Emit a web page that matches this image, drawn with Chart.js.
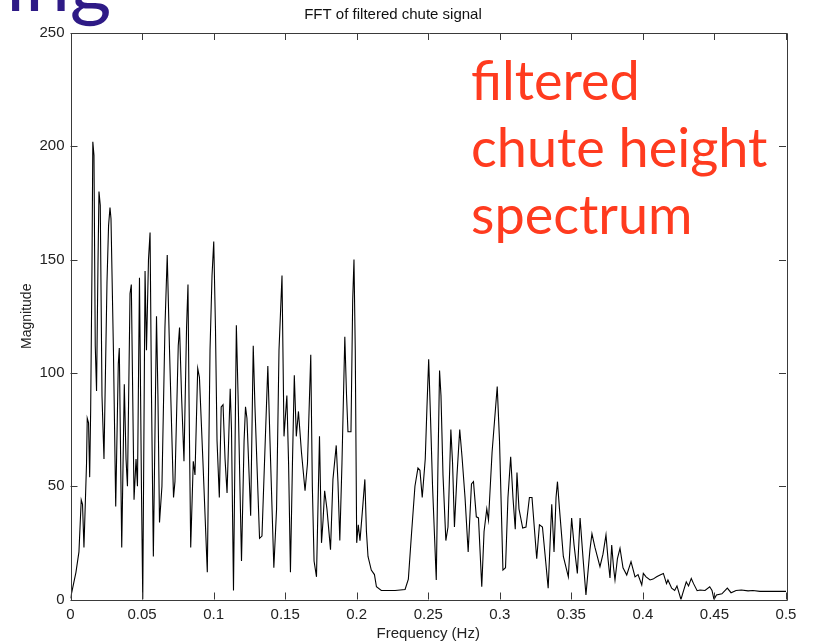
<!DOCTYPE html>
<html>
<head>
<meta charset="utf-8">
<title>FFT of filtered chute signal</title>
<script src="https://cdn.jsdelivr.net/npm/chart.js@4.4.1/dist/chart.umd.min.js"></script>
<style>
  html, body { margin: 0; padding: 0; background: #fff; overflow: hidden; }
  #wrap { position: relative; width: 816px; height: 644px; }
  #chart { position: absolute; left: 0; top: 0; }
  .slide-title {
    position: absolute; left: 6px; top: -60px;
    font: 80px/80px Lato, sans-serif; color: #2e1a86; white-space: nowrap;
  }
  .note {
    position: absolute; left: 471px; top: 46px;
    font: 54px/67px Lato, sans-serif; color: #ff3b1f; white-space: nowrap;
  }
</style>
</head>
<body>
<div id="wrap">
  <canvas id="chart" width="816" height="644"></canvas>
  <div class="slide-title">ing</div>
  <div class="note">filtered<br>chute height<br>spectrum</div>
</div>
<script>
// Spectrum samples (peaks and troughs), frequency in Hz
const freqHz = [
  0.0000, 0.0038, 0.0059, 0.0075, 0.0084, 0.0094, 0.0112, 0.0117, 0.0126, 0.0134,
  0.0141, 0.0150, 0.0156, 0.0164, 0.0173, 0.0182, 0.0192, 0.0199, 0.0208, 0.0220,
  0.0234, 0.0255, 0.0266, 0.0276, 0.0283, 0.0300, 0.0316, 0.0334, 0.0341, 0.0358,
  0.0376, 0.0388, 0.0398, 0.0416, 0.0425, 0.0444, 0.0458, 0.0468, 0.0482, 0.0496,
  0.0505, 0.0521, 0.0531, 0.0545, 0.0556, 0.0566, 0.0579, 0.0601, 0.0611, 0.0622,
  0.0639, 0.0660, 0.0676, 0.0692, 0.0720, 0.0730, 0.0753, 0.0762, 0.0776, 0.0793,
  0.0811, 0.0821, 0.0828, 0.0840, 0.0858, 0.0870, 0.0889, 0.0901, 0.0926, 0.0956,
  0.0975, 0.0989, 0.1001, 0.1013, 0.1024, 0.1040, 0.1053, 0.1066, 0.1080, 0.1094,
  0.1116, 0.1125, 0.1139, 0.1159, 0.1171, 0.1195, 0.1213, 0.1223, 0.1233, 0.1259,
  0.1277, 0.1289, 0.1321, 0.1338, 0.1379, 0.1394, 0.1421, 0.1440, 0.1457, 0.1478,
  0.1492, 0.1512, 0.1524, 0.1537, 0.1551, 0.1564, 0.1578, 0.1593, 0.1614, 0.1639,
  0.1656, 0.1679, 0.1690, 0.1702, 0.1719, 0.1740, 0.1754, 0.1765, 0.1776, 0.1792,
  0.1817, 0.1834, 0.1857, 0.1869, 0.1882, 0.1897, 0.1917, 0.1929, 0.1939, 0.1960,
  0.1972, 0.1981, 0.1990, 0.2000, 0.2011, 0.2023, 0.2041, 0.2057, 0.2068, 0.2079,
  0.2102, 0.2124, 0.2138, 0.2172, 0.2268, 0.2338, 0.2361, 0.2383, 0.2407, 0.2428,
  0.2442, 0.2458, 0.2479, 0.2491, 0.2503, 0.2516, 0.2530, 0.2556, 0.2568, 0.2579,
  0.2589, 0.2603, 0.2623, 0.2638, 0.2658, 0.2670, 0.2683, 0.2701, 0.2720, 0.2736,
  0.2757, 0.2779, 0.2802, 0.2816, 0.2836, 0.2851, 0.2874, 0.2890, 0.2909, 0.2921,
  0.2946, 0.2982, 0.2998, 0.3022, 0.3040, 0.3057, 0.3076, 0.3092, 0.3108, 0.3120,
  0.3134, 0.3160, 0.3183, 0.3207, 0.3225, 0.3258, 0.3277, 0.3298, 0.3316, 0.3338,
  0.3363, 0.3379, 0.3393, 0.3403, 0.3417, 0.3444, 0.3479, 0.3502, 0.3519, 0.3542,
  0.3561, 0.3582, 0.3602, 0.3630, 0.3644, 0.3665, 0.3700, 0.3721, 0.3742, 0.3756,
  0.3770, 0.3782, 0.3795, 0.3805, 0.3822, 0.3840, 0.3861, 0.3887, 0.3917, 0.3945,
  0.3966, 0.3992, 0.4003, 0.4022, 0.4050, 0.4071, 0.4096, 0.4120, 0.4143, 0.4165,
  0.4175, 0.4201, 0.4222, 0.4238, 0.4266, 0.4280, 0.4303, 0.4319, 0.4338, 0.4354,
  0.4379, 0.4399, 0.4434, 0.4467, 0.4483, 0.4497, 0.4514, 0.4552, 0.4590, 0.4616,
  0.4651, 0.4688, 0.4735, 0.4769, 0.4818, 0.5000
];

const magnitude = [
  0.5, 12, 21, 44, 42, 23, 60, 80, 78, 54,
  84, 146, 202, 196, 112, 92, 148, 180, 174, 90,
  62, 140, 165, 173, 168, 110, 41, 104, 111, 23,
  95, 62, 50, 135, 139, 44, 62, 50, 142, 48,
  0, 145, 110, 150, 162, 90, 19, 125, 90, 34,
  50, 120, 152, 110, 45, 52, 112, 120, 90, 61,
  120, 139, 90, 23, 61, 55, 102, 98, 60, 12,
  110, 143, 158, 120, 70, 45, 85, 86, 62, 47,
  93, 75, 4, 121, 90, 17, 70, 85, 80, 37,
  112, 85, 27, 28, 103, 70, 14, 40, 110, 143,
  72, 90, 60, 12, 60, 99, 72, 83, 65, 48,
  60, 108, 50, 17, 10, 72, 25, 35, 48, 40,
  22, 53, 68, 52, 26, 60, 116, 90, 74, 74,
  132, 150, 110, 25, 33, 26, 40, 53, 30, 19,
  13, 11, 5.6, 4, 4, 4.4, 9, 29, 50, 58,
  57, 45, 62, 85, 106, 80, 50, 8.6, 60, 101,
  90, 55, 26, 32, 75, 60, 32, 55, 75, 63,
  45, 21, 51, 52, 36.5, 36, 5.6, 30, 40, 35,
  65, 94, 70, 13, 14, 45, 63, 45, 31, 56,
  40, 31.5, 32, 45, 45, 18, 33, 32, 20, 5,
  42, 21, 45, 52, 40, 19, 10, 36, 24, 11.5,
  36, 18, 2, 22, 29, 23, 14.5, 20, 28.5, 18,
  9.5, 24, 14, 8.6, 18, 22.6, 14, 10.8, 16.7, 10,
  11, 6.4, 11.5, 10, 8.6, 9, 10, 10.8, 11.5, 7,
  8.6, 5, 4, 6, 0, 3, 7.8, 6, 9.3, 7,
  3.9, 4.2, 4, 5.6, 4, 0, 2, 2.5, 5, 3,
  4, 4.2, 3.8, 4, 3.6, 3.6
];

const xTicks = [0, 0.05, 0.1, 0.15, 0.2, 0.25, 0.3, 0.35, 0.4, 0.45, 0.5];
const yTicks = [0, 50, 100, 150, 200, 250];

const plotTitle = 'FFT of filtered chute signal';
const xLabel = 'Frequency (Hz)';
const yLabel = 'Magnitude';

Chart.defaults.font.family = '"Liberation Sans", Arial, Helvetica, sans-serif';
Chart.defaults.color = '#222';

// box around the plot with inward ticks on all four sides
const boxAxes = {
  id: 'boxAxes',
  afterDraw(chart) {
    const { ctx, chartArea: a, scales } = chart;
    const len = 7;
    ctx.save();
    ctx.strokeStyle = '#3a3a3a';
    ctx.lineWidth = 1;
    ctx.beginPath();
    ctx.rect(Math.round(a.left) + 0.5, Math.round(a.top) + 0.5,
      Math.round(a.right - a.left), Math.round(a.bottom - a.top));
    scales.x.ticks.forEach(t => {
      const px = Math.round(scales.x.getPixelForValue(t.value)) + 0.5;
      ctx.moveTo(px, a.bottom); ctx.lineTo(px, a.bottom - len);
      ctx.moveTo(px, a.top); ctx.lineTo(px, a.top + len);
    });
    scales.y.ticks.forEach(t => {
      const py = Math.round(scales.y.getPixelForValue(t.value)) + 0.5;
      ctx.moveTo(a.left, py); ctx.lineTo(a.left + len, py);
      ctx.moveTo(a.right, py); ctx.lineTo(a.right - len, py);
    });
    ctx.stroke();
    ctx.restore();
  }
};

new Chart(document.getElementById('chart'), {
  type: 'line',
  data: {
    datasets: [{
      data: freqHz.map((f, i) => ({ x: f, y: magnitude[i] })),
      borderColor: '#000',
      borderWidth: 1.1,
      pointRadius: 0,
      tension: 0,
      fill: false
    }]
  },
  options: {
    responsive: false,
    animation: false,
    layout: { padding: { left: 0, right: 30, top: 0, bottom: 0 } },
    plugins: {
      legend: { display: false },
      tooltip: { enabled: false },
      title: {
        display: true,
        text: plotTitle,
        color: '#111',
        font: { size: 15, weight: 'normal' },
        padding: { top: 6, bottom: 9 }
      }
    },
    scales: {
      x: {
        type: 'linear',
        min: 0,
        max: 0.5,
        afterBuildTicks: s => { s.ticks = xTicks.map(v => ({ value: v })); },
        afterFit: s => { s.height = 44.5; },
        ticks: {
          padding: 6,
          maxRotation: 0,
          font: { size: 15 },
          callback: v => String(v)
        },
        grid: { display: false, drawTicks: false },
        border: { display: false },
        title: {
          display: true,
          text: xLabel,
          font: { size: 15 },
          padding: { top: 0, bottom: 1 }
        }
      },
      y: {
        min: 0,
        max: 250,
        afterBuildTicks: s => { s.ticks = yTicks.map(v => ({ value: v })); },
        afterFit: s => { s.width = 70.5; },
        ticks: {
          padding: 6,
          font: { size: 15 },
          callback: v => String(v)
        },
        grid: { display: false, drawTicks: false },
        border: { display: false },
        title: {
          display: true,
          text: yLabel,
          font: { size: 14 },
          padding: { top: 19, bottom: 0 }
        }
      }
    }
  },
  plugins: [boxAxes]
});
</script>
</body>
</html>
